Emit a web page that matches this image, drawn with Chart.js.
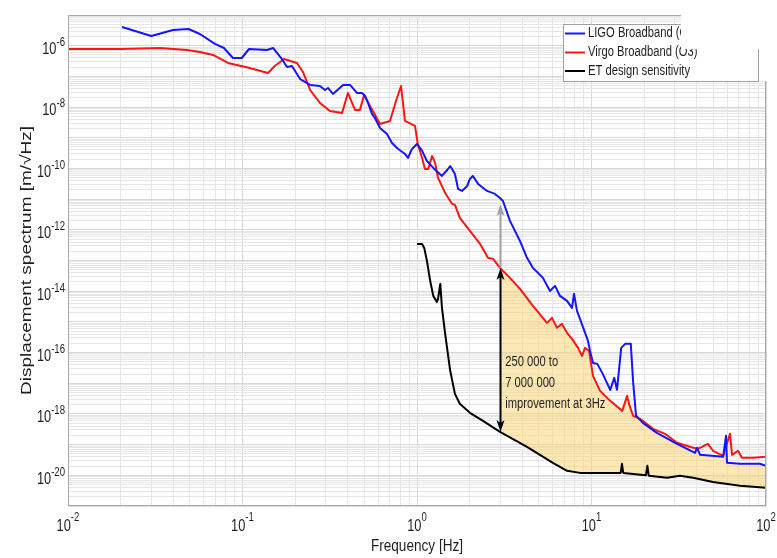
<!DOCTYPE html>
<html>
<head>
<meta charset="utf-8">
<script src="https://cdn.jsdelivr.net/npm/chart.js@4.4.1/dist/chart.umd.min.js"></script>
<style>
  html, body { margin: 0; padding: 0; background: #fff; }
</style>
</head>
<body>
<canvas id="chart" width="777" height="558"></canvas>
<script>
// axis ranges and labelled decades (exponents of 10)
const xRange = [1e-2, 1e2];
const yRange = [1e-21, 1e-5];
const xDecades = [-2, -1, 0, 1, 2];
const yDecades = [-20, -18, -16, -14, -12, -10, -8, -6];

// LIGO broadband (blue)
const ligoFreq = [
  0.0204, 0.030, 0.040, 0.049, 0.057, 0.0695, 0.0783, 0.0882, 0.099, 0.109,
  0.138, 0.150, 0.168, 0.180, 0.192, 0.214, 0.244, 0.278, 0.297, 0.309,
  0.330, 0.377, 0.413, 0.453, 0.484, 0.504, 0.524, 0.552, 0.574, 0.614,
  0.673, 0.719, 0.768, 0.853, 0.888, 0.936, 1.00, 1.07, 1.14, 1.24,
  1.39, 1.49, 1.55, 1.65, 1.72, 1.81, 1.94, 2.01, 2.09, 2.24,
  2.52, 2.80, 2.99, 3.11, 3.41, 3.89, 4.27, 4.62, 5.27, 5.78,
  6.18, 6.60, 7.24, 7.73, 7.94, 8.26, 8.59, 9.55, 9.80, 10.2,
  10.8, 11.6, 12.8, 13.5, 14.0, 14.8, 15.6, 16.8, 17.3, 18.0,
  19.7, 23.7, 30.9, 39.2, 40.3, 41.9, 56.8, 59.0, 59.8, 71.0,
  92.4, 100
];
const ligoAsd = [
  4.06e-6, 2.07e-6, 3.24e-6, 3.5e-6, 2.4e-6, 1.14e-6, 8.4e-7, 3.97e-7, 3.97e-7, 7.8e-7,
  7.2e-7, 8.4e-7, 3.69e-7, 2.02e-7, 2.18e-7, 8.2e-8, 5.25e-8, 4.87e-8, 3.6e-8, 4.19e-8,
  2.67e-8, 5.25e-8, 5.25e-8, 2.88e-8, 2.88e-8, 2.3e-8, 1.36e-8, 5.96e-9, 4.42e-9, 2.08e-9,
  1.33e-9, 6.78e-10, 4.65e-10, 2.97e-10, 2.2e-10, 4.32e-10, 6.28e-10, 3.72e-10, 1.75e-10, 1.04e-10,
  5.7e-11, 8.9e-11, 1.2e-10, 6.6e-11, 2.15e-11, 1.85e-11, 2.69e-11, 4.55e-11, 5.7e-11, 3.13e-11,
  1.85e-11, 1.48e-11, 1.09e-11, 8.7e-12, 1.95e-12, 4.35e-13, 1.22e-13, 5.74e-14, 2.71e-14, 1.02e-14,
  1.49e-14, 7.0e-15, 4.83e-15, 2.86e-15, 8.2e-15, 2.28e-15, 1.25e-15, 2.4e-16, 1.14e-16, 4.6e-17,
  4.28e-17, 2.02e-17, 6.1e-18, 1.5e-17, 6.1e-18, 1.42e-16, 1.92e-16, 1.92e-16, 1.2e-17, 8.7e-19,
  5.13e-19, 2.42e-19, 1.06e-19, 5.4e-20, 7.9e-20, 4.66e-20, 4.0e-20, 1.94e-19, 2.55e-20, 2.37e-20,
  2.37e-20, 2.04e-20
];

// Virgo broadband (red)
const virgoFreq = [
  0.01, 0.02, 0.0337, 0.0481, 0.057, 0.0678, 0.0826, 0.110, 0.140, 0.153,
  0.173, 0.205, 0.222, 0.244, 0.278, 0.317, 0.372, 0.402, 0.441, 0.471,
  0.497, 0.538, 0.614, 0.700, 0.758, 0.810, 0.853, 0.974, 1.01, 1.07,
  1.11, 1.16, 1.22, 1.27, 1.32, 1.45, 1.59, 1.65, 1.76, 2.01,
  2.30, 2.55, 2.73, 2.99, 3.41, 3.89, 4.62, 5.56, 5.94, 6.34,
  6.78, 7.24, 7.73, 8.37, 8.83, 9.18, 9.68, 10.2, 11.2, 12.8,
  15.0, 16.0, 16.4, 17.3, 19.0, 22.5, 26.4, 30.9, 38.2, 40.7,
  46.5, 49.7, 56.8, 62.2, 63.9, 69.1, 72.8, 84.3, 100
];
const virgoAsd = [
  7.8e-7, 7.8e-7, 8.4e-7, 7.2e-7, 6.2e-7, 4.98e-7, 2.73e-7, 1.88e-7, 1.29e-7, 2.18e-7,
  3.69e-7, 2.73e-7, 1.39e-7, 3.6e-8, 1.36e-8, 7.46e-9, 6.4e-9, 2.88e-8, 8.05e-9, 8.05e-9,
  2.48e-8, 1.09e-8, 2.82e-9, 3.52e-9, 1.58e-8, 4.87e-8, 3.52e-9, 2.42e-9, 6.28e-10, 2.2e-10,
  9.6e-11, 9.6e-11, 2.55e-10, 1.51e-10, 4.9e-11, 1.59e-11, 6.98e-12, 6.5e-12, 2.44e-12, 9.2e-13,
  3.47e-13, 1.22e-13, 1.13e-13, 5.74e-14, 2.71e-14, 1.19e-14, 3.32e-15, 9.3e-16, 1.35e-15, 6.4e-16,
  8.6e-16, 4.38e-16, 2.79e-16, 1.42e-16, 7.8e-17, 1.42e-16, 1.14e-16, 1.74e-17, 5.65e-18, 2.67e-18,
  1.26e-18, 3.89e-18, 2.13e-18, 8.7e-19, 6.9e-19, 3.27e-19, 2.25e-19, 1.15e-19, 7.9e-20, 7.3e-20,
  1.06e-19, 6.3e-20, 4.3e-20, 2.25e-19, 4.66e-20, 6.3e-20, 3.72e-20, 3.72e-20, 4.0e-20
];

// ET design sensitivity (black)
const etFreq = [
  1.00, 1.07, 1.10, 1.14, 1.19, 1.24, 1.30, 1.32, 1.36, 1.39,
  1.45, 1.55, 1.65, 1.76, 2.01, 2.39, 2.99, 4.27, 6.01, 7.24,
  8.59, 13.3, 14.7, 14.95, 15.2, 20.5, 20.9, 21.3, 27.1, 32.1,
  38.2, 49.7, 71.0, 100
];
const etAsd = [
  3.47e-13, 3.47e-13, 2.57e-13, 9.7e-14, 2.17e-14, 7.0e-15, 4.48e-15, 5.6e-15, 1.73e-14, 2.86e-15,
  4.07e-16, 2.54e-17, 4.52e-18, 2.13e-18, 1.09e-18, 5.96e-19, 2.61e-19, 8.5e-20, 2.55e-20, 1.40e-20,
  1.2e-20, 1.2e-20, 1.2e-20, 2.37e-20, 1.2e-20, 1.0e-20, 2.04e-20, 9.6e-21, 8.3e-21, 9.6e-21,
  8.3e-21, 6.1e-21, 4.55e-21, 3.92e-21
];

// upper edge of the shaded improvement region (from 3 Hz)
const fillFreq = [
  3.0, 3.41, 3.89, 4.62, 5.56, 5.94, 6.34, 6.78, 7.24, 7.73,
  8.37, 8.83, 9.18, 9.68, 10.2, 11.2, 12.8, 15.0, 16.0, 16.4,
  17.3, 18.0, 19.7, 23.7, 30.9, 39.2, 40.3, 41.9, 56.8, 59.0,
  59.8, 71.0, 92.4, 100
];
const fillAsd = [
  5.74e-14, 2.71e-14, 1.19e-14, 3.32e-15, 9.3e-16, 1.35e-15, 6.4e-16, 8.6e-16, 4.38e-16, 2.79e-16,
  1.42e-16, 7.8e-17, 1.42e-16, 1.14e-16, 1.74e-17, 5.65e-18, 2.67e-18, 1.26e-18, 3.89e-18, 2.13e-18,
  8.7e-19, 8.7e-19, 5.13e-19, 2.42e-19, 1.06e-19, 5.4e-20, 7.9e-20, 4.66e-20, 4.0e-20, 1.94e-19,
  2.55e-20, 2.37e-20, 2.37e-20, 2.04e-20
];

// the arrows at 3 Hz
const arrowFreq = 3;
const arrowEt = 2.6e-19;
const arrowVirgo = 5.7e-14;
const arrowLigo = 7e-12;
const noteLines = ['250 000 to', '7 000 000', 'improvement at 3Hz'];

const FAMILY = '"Liberation Sans", Arial, sans-serif';
const TXT = '#1e1e1e';
const SQ = 0.8; // the source picture is squeezed horizontally

function pts(xs, ys) {
  return xs.map((x, i) => ({x: x, y: ys[i]}));
}

// 1..9 x 10^n for every decade of a range, for the grid
function gridTicks(min, max) {
  let out = [];
  for (let e = Math.round(Math.log10(min)); e < Math.round(Math.log10(max)); e++) {
    for (let m = 1; m < 10; m++) out.push({value: m * Math.pow(10, e)});
  }
  out.push({value: max});
  return out;
}

function isDecade(v) {
  let l = Math.log10(v);
  return Math.abs(l - Math.round(l)) < 1e-6;
}

function sqText(ctx, text, x, y, font, align) {
  ctx.save();
  ctx.font = font;
  ctx.fillStyle = TXT;
  ctx.textBaseline = 'middle';
  ctx.textAlign = 'left';
  let w = ctx.measureText(text).width * SQ;
  let x0 = align === 'center' ? x - w / 2 : (align === 'right' ? x - w : x);
  ctx.translate(x0, y);
  ctx.scale(SQ, 1);
  ctx.fillText(text, 0, 0);
  ctx.restore();
  return w;
}

function powLabel(ctx, exp, x, yBase, ySup, align) {
  const bf = '16px ' + FAMILY, sf = '12px ' + FAMILY;
  ctx.font = bf;
  let wb = ctx.measureText('10').width * SQ;
  ctx.font = sf;
  let ws = ctx.measureText(String(exp)).width * SQ;
  let x0 = align === 'right' ? x - wb - ws : x - (wb + ws) / 2;
  sqText(ctx, '10', x0, yBase, bf, 'left');
  sqText(ctx, String(exp), x0 + wb, ySup, sf, 'left');
}

function arrowHead(ctx, x, y, dir) {
  // dir = -1 points up, 1 points down
  ctx.beginPath();
  ctx.moveTo(x, y);
  ctx.lineTo(x - 4, y - dir * 12);
  ctx.lineTo(x, y - dir * 9);
  ctx.lineTo(x + 4, y - dir * 12);
  ctx.closePath();
  ctx.fill();
}

const decorations = {
  id: 'decorations',
  afterDatasetsDraw(chart) {
    const ctx = chart.ctx;
    const xs = chart.scales.x, ys = chart.scales.y;
    const ax = Math.round(xs.getPixelForValue(arrowFreq)) + 0.5;
    const yEt = ys.getPixelForValue(arrowEt);
    const yV = ys.getPixelForValue(arrowVirgo);
    const yL = ys.getPixelForValue(arrowLigo);
    ctx.save();
    // grey arrow: Virgo -> LIGO
    ctx.strokeStyle = '#a0a0a0';
    ctx.fillStyle = '#a0a0a0';
    ctx.lineWidth = 2;
    ctx.beginPath();
    ctx.moveTo(ax, yV);
    ctx.lineTo(ax, yL + 8);
    ctx.stroke();
    arrowHead(ctx, ax, yL, -1);
    // black double arrow: ET <-> Virgo
    ctx.strokeStyle = '#000';
    ctx.fillStyle = '#000';
    ctx.beginPath();
    ctx.moveTo(ax, yEt - 8);
    ctx.lineTo(ax, yV + 8);
    ctx.stroke();
    arrowHead(ctx, ax, yV, -1);
    arrowHead(ctx, ax, yEt, 1);
    // plot frame
    const a = chart.chartArea;
    ctx.strokeStyle = '#a8a8a8';
    ctx.lineWidth = 1;
    ctx.strokeRect(Math.round(a.left) + 0.5, Math.round(a.top) + 0.5,
      Math.round(a.right - a.left) - 1, Math.round(a.bottom - a.top) - 1);
    ctx.restore();
  },
  afterDraw(chart) {
    const ctx = chart.ctx;
    const xs = chart.scales.x, ys = chart.scales.y;
    const a = chart.chartArea;

    xDecades.forEach(e => {
      powLabel(ctx, e, xs.getPixelForValue(Math.pow(10, e)), 527, 518, 'center');
    });
    yDecades.forEach(e => {
      let py = ys.getPixelForValue(Math.pow(10, e));
      powLabel(ctx, e, 65, py + 4, py - 3, 'right');
    });

    // axis titles
    sqText(ctx, 'Frequency [Hz]', (a.left + a.right) / 2, 546, '17px ' + FAMILY, 'center');
    ctx.save();
    ctx.font = '19px ' + FAMILY;
    ctx.translate(27, (a.top + a.bottom) / 2);
    ctx.scale(SQ, 1);
    ctx.rotate(-Math.PI / 2);
    ctx.fillStyle = TXT;
    ctx.textBaseline = 'middle';
    ctx.textAlign = 'center';
    ctx.fillText('Displacement spectrum [m/\u221AHz]', 0, 0);
    ctx.restore();

    // note next to the arrow
    const ax = xs.getPixelForValue(arrowFreq);
    noteLines.forEach((t, i) => sqText(ctx, t, ax + 5, 362 + i * 21, '14px ' + FAMILY, 'left'));

    // legend box
    ctx.save();
    ctx.fillStyle = '#fff';
    ctx.fillRect(563, 24, 195, 57);
    ctx.strokeStyle = '#a0a0a0';
    ctx.lineWidth = 1;
    ctx.strokeRect(563.5, 24.5, 195, 57);
    const rows = [33.5, 52.5, 71];
    chart.data.datasets.slice(0, 3).forEach((ds, i) => {
      ctx.strokeStyle = ds.borderColor;
      ctx.lineWidth = 2;
      ctx.beginPath();
      ctx.moveTo(565, rows[i]);
      ctx.lineTo(585, rows[i]);
      ctx.stroke();
      sqText(ctx, ds.label, 588, rows[i], '14px ' + FAMILY, 'left');
    });
    // the source picture is cut off in the top right corner
    ctx.fillStyle = '#fff';
    ctx.fillRect(681, 0, 96, 49);
    ctx.fillRect(759, 0, 18, 81);
    ctx.restore();
  }
};

new Chart(document.getElementById('chart'), {
  type: 'line',
  data: {
    datasets: [
      {
        label: 'LIGO Broadband (O3)',
        data: pts(ligoFreq, ligoAsd),
        borderColor: '#1414ff',
        borderWidth: 2,
        pointRadius: 0,
        fill: false
      },
      {
        label: 'Virgo Broadband (O3)',
        data: pts(virgoFreq, virgoAsd),
        borderColor: '#ff1414',
        borderWidth: 2,
        pointRadius: 0,
        fill: false
      },
      {
        label: 'ET design sensitivity',
        data: pts(etFreq, etAsd),
        borderColor: '#000000',
        borderWidth: 2,
        pointRadius: 0,
        fill: false
      },
      {
        // shaded region between the best detector and ET
        label: 'improvement',
        data: pts(fillFreq, fillAsd),
        borderColor: 'rgba(0,0,0,0)',
        borderWidth: 0,
        pointRadius: 0,
        backgroundColor: 'rgba(247, 213, 120, 0.55)',
        fill: 2
      }
    ]
  },
  options: {
    responsive: false,
    animation: false,
    devicePixelRatio: 1,
    layout: {padding: {left: 68, top: 15, right: 11, bottom: 52}},
    elements: {line: {tension: 0, borderJoinStyle: 'round'}},
    plugins: {legend: {display: false}, tooltip: {enabled: false}},
    scales: {
      x: {
        type: 'logarithmic',
        min: xRange[0],
        max: xRange[1],
        afterBuildTicks: s => { s.ticks = gridTicks(xRange[0], xRange[1]); },
        ticks: {display: false},
        grid: {
          drawTicks: false,
          color: c => (c.tick && isDecade(c.tick.value)) ? '#d8d8d8' : '#e6e6e6'
        },
        border: {display: false}
      },
      y: {
        type: 'logarithmic',
        min: yRange[0],
        max: yRange[1],
        afterBuildTicks: s => { s.ticks = gridTicks(yRange[0], yRange[1]); },
        ticks: {display: false},
        grid: {
          drawTicks: false,
          color: c => (c.tick && isDecade(c.tick.value)) ? '#d8d8d8' : '#e6e6e6'
        },
        border: {display: false}
      }
    }
  },
  plugins: [decorations]
});
</script>
</body>
</html>
